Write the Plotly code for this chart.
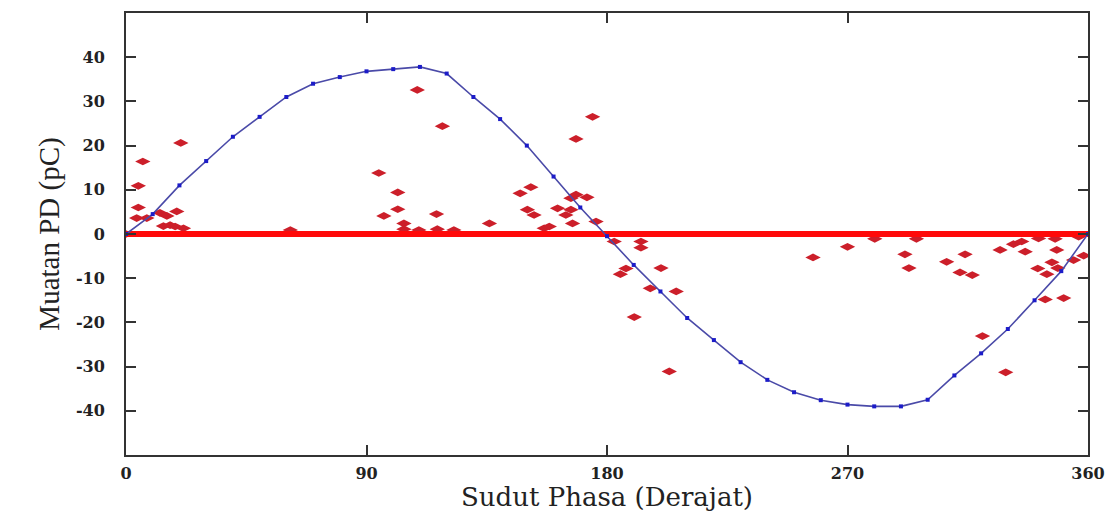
import plotly.graph_objects as go

ref_phase = [0, 10, 20, 30, 40, 50, 60, 70, 80, 90, 100, 110, 120, 130, 140, 150, 160, 170, 180,
             190, 200, 210, 220, 230, 240, 250, 260, 270, 280, 290, 300, 310, 320, 330, 340, 350, 360]
ref_charge = [0, 4.5, 11, 16.5, 22, 26.5, 31, 34, 35.5, 36.8, 37.3, 37.8, 36.3, 31, 26, 20, 13, 6, -0.5,
              -7, -13, -19, -24, -29, -33, -35.8, -37.6, -38.6, -39, -39, -37.5, -32, -27, -21.5, -15, -8.4, 0]

# PD pulses (red diamonds)
pd_phase = [0, 4, 4.6, 4.6, 6.3, 7.8, 12.7, 14, 15.3, 16.5, 18.4, 19, 20.5, 21.5, 61.5,
            94.6, 96.5, 101.7, 101.7, 104, 104, 109, 109.6, 116.2, 116.5, 118.4, 122.7, 136,
            147.5, 150.2, 151.5, 152.7, 156.5, 158.4, 161.5, 164.6, 166.5, 166.5, 167.1, 168.4, 168.4,
            172.5, 174.6, 175.9,
            182.7, 185, 187.1, 190.2, 192.7, 192.7, 196.2, 200.2, 203.3, 205.9,
            257.1, 270, 280.2, 291.5, 293, 295.8,
            307.1, 312.1, 314, 316.7, 320.5, 327.1, 329.2, 332.1, 335.2, 336.5, 341.2, 341.5,
            344, 344.6, 346.5, 347.7, 348.3, 348.7, 350.9, 354.6, 356.5, 358.4]
pd_charge = [0, 3.6, 10.9, 6.0, 16.4, 3.6, 4.8, 1.8, 4.1, 2.0, 1.7, 5.1, 20.6, 1.3, 0.9,
             13.8, 4.1, 9.4, 5.6, 2.4, 1.1, 32.6, 0.9, 4.5, 1.1, 24.4, 0.9, 2.4,
             9.2, 5.5, 10.6, 4.3, 1.3, 1.7, 5.8, 4.3, 5.5, 8.1, 2.4, 8.9, 21.5,
             8.3, 26.5, 2.8,
             -1.7, -9.1, -7.8, -18.8, -1.7, -3.1, -12.3, -7.7, -31.1, -13.0,
             -5.3, -2.9, -1.1, -4.6, -7.7, -1.1,
             -6.3, -8.7, -4.6, -9.3, -23.1, -3.6, -31.3, -2.3, -1.7, -4.0, -7.8, -1.0,
             -14.8, -9.1, -6.4, -1.1, -3.6, -7.7, -14.5, -5.9, -0.6, -4.9]

# Zero-charge baseline pulses (thick red band)
base_phase = [0, 360]
base_charge = [0, 0]

x_ticks = [0, 90, 180, 270, 360]
y_ticks = [-40, -30, -20, -10, 0, 10, 20, 30, 40]

fig = go.Figure()
fig.add_trace(go.Scatter(x=pd_phase, y=pd_charge, mode="markers",
                         marker=dict(symbol="diamond-wide", size=11, color="#cc1f2a",
                                     line=dict(width=0)),
                         showlegend=False))
fig.add_trace(go.Scatter(x=base_phase, y=base_charge, mode="lines",
                         line=dict(color="#ff0a0a", width=6), showlegend=False))
fig.add_trace(go.Scatter(x=ref_phase, y=ref_charge, mode="lines+markers",
                         line=dict(color="#4a4aa8", width=1.6),
                         marker=dict(symbol="square", size=4, color="#1c1cc8"),
                         showlegend=False))

axis_common = dict(showline=True, linecolor="#333333", linewidth=2, mirror="ticks",
                   ticks="inside", ticklen=10, tickwidth=1.5, tickcolor="#333333",
                   showgrid=False, zeroline=False, automargin=False)

fig.update_layout(
    width=1112, height=504,
    margin=dict(l=118, r=32, t=5, b=57),
    paper_bgcolor="white", plot_bgcolor="white",
    xaxis=dict(range=[0, 360], tickvals=x_ticks, ticktext=[str(v) for v in x_ticks],
               tickfont=dict(family="DejaVu Serif", size=16, color="#222222", weight="bold"),
               ticklabelstandoff=3,
               title=dict(text="Sudut Phasa (Derajat)", standoff=4,
                          font=dict(family="DejaVu Serif", size=26, color="#222222")),
               **axis_common),
    yaxis=dict(range=[-50, 50], tickvals=y_ticks, ticktext=[str(v) for v in y_ticks],
               tickfont=dict(family="DejaVu Serif", size=16, color="#222222", weight="bold"),
               ticklabelstandoff=16,
               title=dict(text="Muatan PD (pC)", standoff=8,
                          font=dict(family="Liberation Serif", size=29, color="#222222")),
               **axis_common),
)

fig.write_html("out.html")
